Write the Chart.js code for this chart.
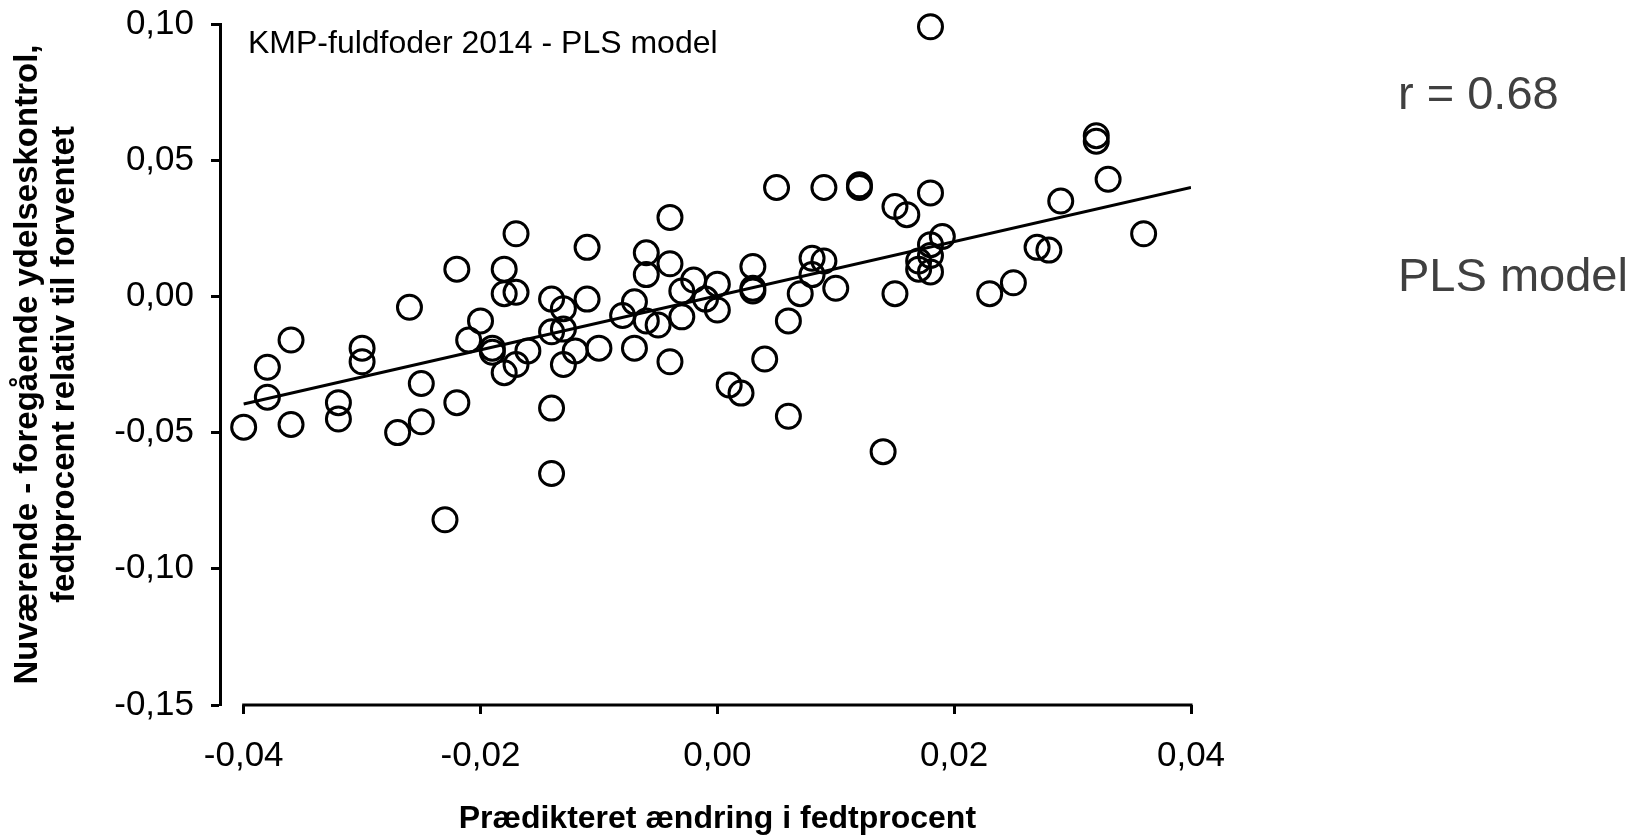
<!DOCTYPE html>
<html>
<head>
<meta charset="utf-8">
<script src="https://cdn.jsdelivr.net/npm/chart.js@4/dist/chart.umd.min.js"></script>
<style>
  body { margin: 0; background: #fff; }
  canvas { display: block; }
</style>
</head>
<body>
<canvas id="pls" width="1641" height="836"></canvas>
<script>
// Prædikteret ændring (x) og observeret ændring (y) pr. besætning
var predicted = [
  0.018, 0.032, 0.032, 0.033, 0.029, 0.036, 0.027, 0.028, 0.025, 0.023,
  0.005, 0.009, 0.012, 0.012, 0.015, 0.016, 0.018, 0.019, 0.018, 0.018,
  0.017, 0.017, 0.018, 0.015, 0.008, 0.009, 0.008, 0.007, 0.010, 0.006,
  0.006, 0.014, 0.004, 0.001, 0.002, 0.003, 0.003, 0.003, 0.000, 0.000,
  -0.001, -0.002, -0.003, -0.003, -0.004, -0.004, -0.004, -0.006, -0.006, -0.006,
  -0.005, -0.007, -0.007, -0.008, -0.011, -0.011, -0.010, -0.012, -0.013, -0.013,
  -0.013, -0.014, -0.014, -0.014, -0.014, -0.016, -0.017, -0.017, -0.017, -0.018,
  -0.018, -0.018, -0.019, -0.019, -0.020, -0.021, -0.022, -0.022, -0.023, -0.026,
  -0.025, -0.025, -0.027, -0.030, -0.030, -0.032, -0.032, -0.036, -0.036, -0.038,
  -0.038, -0.040
];
var observed = [
  0.099, 0.059, 0.057, 0.043, 0.035, 0.023, 0.018, 0.017, 0.005, 0.001,
  0.040, 0.040, 0.041, 0.040, 0.033, 0.030, 0.038, 0.022, 0.019, 0.015,
  0.013, 0.010, 0.009, 0.001, 0.014, 0.013, 0.008, 0.001, 0.003, -0.009,
  -0.044, -0.057, -0.023, -0.0325, -0.0355, 0.011, 0.003, 0.002, 0.0045, -0.005,
  -0.001, 0.006, 0.002, -0.0075, 0.029, 0.012, -0.024, 0.016, 0.008, -0.009,
  -0.0105, -0.002, -0.019, -0.007, 0.018, -0.001, -0.019, -0.020, -0.0045, -0.012,
  -0.025, -0.001, -0.013, -0.041, -0.065, -0.020, 0.023, 0.0015, -0.025, 0.010,
  0.001, -0.028, -0.019, -0.0205, -0.009, -0.016, 0.010, -0.039, -0.082, -0.004,
  -0.032, -0.046, -0.050, -0.019, -0.024, -0.039, -0.045, -0.016, -0.047, -0.026,
  -0.037, -0.048
];

// Regressionslinje
var fitX = [-0.04, 0.04];
var fitY = [-0.0395, 0.040];

var xTicks = [-0.04, -0.02, 0, 0.02, 0.04];
var yTicks = [-0.15, -0.10, -0.05, 0, 0.05, 0.10];

var xTitle = 'Prædikteret ændring i fedtprocent';
var yTitle = ['Nuværende - foregående ydelseskontrol,', 'fedtprocent relativ til forventet'];

var fmt = function (v) { return v.toFixed(2).replace('.', ','); };

var points = predicted.map(function (x, i) { return { x: x, y: observed[i] }; });
var fitLine = fitX.map(function (x, i) { return { x: x, y: fitY[i] }; });

// x-aksen tegnes kun fra -0,04 til 0,04 (med afstand til y-aksen),
// og titlen centreres under det stykke
var xAxisLine = {
  id: 'xAxisLine',
  afterDraw: function (chart) {
    var c = chart.ctx, xs = chart.scales.x, y = chart.chartArea.bottom;
    var x0 = xs.getPixelForValue(xTicks[0]);
    var x1 = xs.getPixelForValue(xTicks[xTicks.length - 1]);
    c.save();
    c.strokeStyle = '#000';
    c.lineWidth = 3;
    c.beginPath();
    c.moveTo(x0 - 1.5, y);
    c.lineTo(x1 + 1.5, y);
    c.stroke();
    c.fillStyle = '#000';
    c.font = 'bold 32px "Liberation Sans", Arial, sans-serif';
    c.textAlign = 'center';
    c.textBaseline = 'middle';
    c.fillText(xTitle, (x0 + x1) / 2, 819);
    c.restore();
  }
};

// tekster i og ved siden af plottet
var notes = {
  id: 'notes',
  afterDraw: function (chart) {
    var c = chart.ctx;
    c.save();
    c.textBaseline = 'alphabetic';
    c.textAlign = 'left';
    c.fillStyle = '#000';
    c.font = '32px "Liberation Sans", Arial, sans-serif';
    c.fillText('KMP-fuldfoder 2014 - PLS model', 248, 53);
    c.fillStyle = '#404040';
    c.font = '47px "Liberation Sans", Arial, sans-serif';
    c.fillText('r = 0.68', 1398, 109);
    c.fillText('PLS model', 1398, 291);
    c.restore();
  }
};

Chart.defaults.font.family = '"Liberation Sans", Arial, sans-serif';
Chart.defaults.color = '#000';

var ctx = document.getElementById('pls').getContext('2d');

var plsChart = new Chart(ctx, {
  type: 'scatter',
  data: {
    datasets: [{
      type: 'line',
      data: fitLine,
      borderColor: '#000',
      borderWidth: 3,
      pointRadius: 0,
      fill: false
    }, {
      data: points,
      clip: false,
      pointRadius: 12,
      pointBorderWidth: 3,
      pointBorderColor: '#000',
      pointBackgroundColor: 'rgba(0,0,0,0)'
    }]
  },
  options: {
    responsive: false,
    animation: false,
    layout: { autoPadding: false, padding: { left: 10, top: 24, right: 450, bottom: 0 } },
    plugins: {
      legend: { display: false },
      tooltip: { enabled: false }
    },
    scales: {
      x: {
        type: 'linear',
        min: -0.042,
        max: 0.04,
        afterBuildTicks: function (s) { s.ticks = xTicks.map(function (v) { return { value: v }; }); },
        afterFit: function (s) { s.height = 131; },
        border: { display: false },
        grid: { drawOnChartArea: false, tickLength: 9, tickWidth: 3, tickColor: '#000' },
        ticks: { font: { size: 35 }, padding: 21, maxRotation: 0, callback: fmt },
        title: { display: false }
      },
      y: {
        min: -0.15,
        max: 0.10,
        afterBuildTicks: function (s) { s.ticks = yTicks.map(function (v) { return { value: v }; }); },
        afterFit: function (s) {
          s.width = 210;
          s.paddingTop = 0;
          s.paddingBottom = 0;
        },
        border: { display: true, color: '#000', width: 3 },
        grid: { drawOnChartArea: false, tickLength: 9, tickWidth: 3, tickColor: '#000' },
        ticks: { font: { size: 35 }, padding: 17, callback: fmt },
        title: {
          display: true,
          text: yTitle,
          font: { size: 33, weight: 'bold', lineHeight: 1.1 },
          padding: { top: 0, bottom: 0 }
        }
      }
    }
  },
  plugins: [xAxisLine, notes]
});
</script>
</body>
</html>
